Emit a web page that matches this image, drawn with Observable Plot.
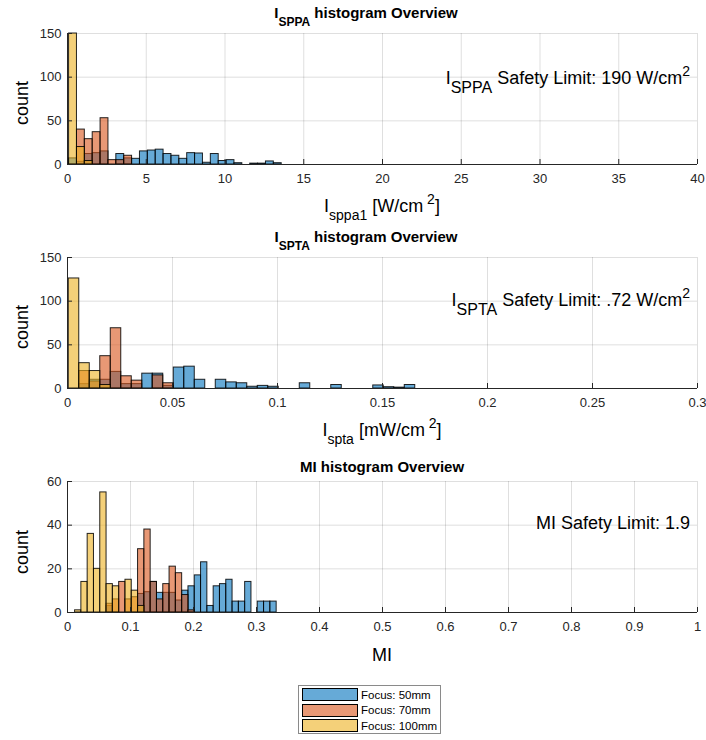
<!DOCTYPE html>
<html><head><meta charset="utf-8">
<script src="https://cdn.jsdelivr.net/npm/d3@7"></script>
<script src="https://cdn.jsdelivr.net/npm/@observablehq/plot@0.6"></script>
<style>
body{margin:0;background:#fff;font-family:"Liberation Sans",Arial,sans-serif;}
#fig{position:relative;width:706px;height:740px;overflow:hidden;background:#fff;}
#fig svg{position:absolute;left:0;}
.t{position:absolute;white-space:nowrap;line-height:1;color:#000;z-index:2;}
.sub{position:relative;}
.sup{position:relative;}
#legend{position:absolute;left:298px;top:685px;width:141px;height:47px;border:1px solid #8a8a8a;background:#fff;z-index:2;}
.lrow{position:absolute;left:3px;height:13px;display:flex;align-items:center;font-size:11.5px;color:#000;}
.sw{width:54px;height:11px;border:1px solid #000;margin-right:3px;}
</style></head><body><div id="fig"></div>
<script>
// ---- data ----
const seriesNames = ["Focus: 50mm", "Focus: 70mm", "Focus: 100mm"];
const seriesColors = ["#0072BD", "#D95319", "#EDB120"];

// I_SPPA histogram (W/cm^2), bin start / width, counts per bin
const sppaBinStart = 0.1, sppaBinWidth = 0.5;
const sppa50 = [7, 3, 12, 13, 15, 0, 12, 7, 6.5, 15, 16, 17, 12, 10, 6.5, 13, 12.6, 2, 12, 4, 5, 1.5, 0, 1, 1, 3.5, 1.5];
const sppa70 = [0, 40, 29, 37, 53, 5, 5, 10];
const sppa100 = [150, 20, 4];
const sppaXTicks = [0, 5, 10, 15, 20, 25, 30, 35, 40];
const sppaYTicks = [0, 50, 100, 150];

// I_SPTA histogram (mW/cm^2)
const sptaBinStart = 0.0006, sptaBinWidth = 0.005;
const spta50 = [0, 5, 10, 10, 19, 5, 5, 17, 17, 3, 24, 25, 10, 0, 10, 7, 6, 2, 3, 2, 0, 0, 6, 0, 0, 4, 0, 0, 0, 3.5, 1.5, 1, 4];
const spta70 = [0, 20, 8, 37, 69, 14, 9, 0, 15, 6];
const spta100 = [126, 29, 20, 4];
const sptaXTicks = [0, 0.05, 0.1, 0.15, 0.2, 0.25, 0.3];
const sptaXLabels = ["0", "0.05", "0.1", "0.15", "0.2", "0.25", "0.3"];
const sptaYTicks = [0, 50, 100, 150];

// MI histogram
const miBinStart = 0.012, miBinWidth = 0.01;
const mi50 = [0, 0, 0, 0, 0, 3, 0, 0, 0, 0, 8.5, 9.3, 14, 9, 9, 9, 5.5, 10, 12, 17, 23, 3, 12, 13, 15, 5, 5, 14, 0, 5, 5, 5];
const mi70 = [0, 0, 0, 0, 0, 4, 6, 14, 6, 7, 29, 38, 14, 6, 13, 21, 18, 8, 1];
const mi100 = [1, 14, 36, 20, 55, 13, 12, 0, 15, 10, 3];
const miXTicks = [0, 0.1, 0.2, 0.3, 0.4, 0.5, 0.6, 0.7, 0.8, 0.9, 1];
const miXLabels = ["0", "0.1", "0.2", "0.3", "0.4", "0.5", "0.6", "0.7", "0.8", "0.9", "1"];
const miYTicks = [0, 20, 40, 60];

// ---- drawing ----
const fig = document.getElementById("fig");
const FONT = "Liberation Sans, Arial, sans-serif";
const PLOT_H = 131, MT = 8, MB = 26;

function makePanel({plotTop, xDomain, xTicks, xLabels, yDomain, yTicks, start, width, series}) {
  const rows = [];
  series.forEach((counts, s) => counts.forEach((c, i) => {
    if (c > 0) rows.push({s, x1: start + i * width, x2: start + (i + 1) * width, y: c});
  }));
  const fmt = xLabels ? (d => xLabels[xTicks.indexOf(d)]) : (d => String(d));
  const innerW = 706 - 67 - 9;
  const svg = Plot.plot({
    width: 706, height: PLOT_H + MT + MB,
    marginLeft: 67, marginRight: 9, marginTop: MT, marginBottom: MB,
    x: {domain: xDomain}, y: {domain: yDomain},
    style: {fontFamily: FONT, fontSize: "13px", color: "#262626", background: "transparent", overflow: "visible"},
    marks: [
      Plot.gridX(xTicks, {stroke: "#262626", strokeOpacity: 0.15}),
      Plot.gridY(yTicks, {stroke: "#262626", strokeOpacity: 0.15}),
      ...[0, 1, 2].map(s => Plot.rectY(rows.filter(r => r.s === s), {
        x1: "x1", x2: "x2", y: "y", fill: seriesColors[s], fillOpacity: 0.6,
        stroke: "#000", strokeWidth: 1, strokeOpacity: 0.85
      })),
      Plot.ruleX([xDomain[0]], {stroke: "#262626"}),
      Plot.ruleY([yDomain[0]], {stroke: "#262626"}),
      Plot.tickX(xTicks, {x: d => d, stroke: "#262626", insetTop: PLOT_H - 5}),
      Plot.tickY(yTicks, {y: d => d, stroke: "#262626", insetRight: innerW - 5}),
      Plot.axisX(xTicks, {tickSize: 0, tickPadding: 9, tickFormat: fmt, label: null, fill: "#262626", fontSize: 13}),
      Plot.axisY(yTicks, {tickSize: 0, tickPadding: 6, tickFormat: d => String(d), label: null, fill: "#262626", fontSize: 13})
    ]
  });
  svg.style.top = (plotTop - MT) + "px";
  fig.appendChild(svg);
}

makePanel({plotTop: 33, xDomain: [0, 40], xTicks: sppaXTicks, yDomain: [0, 150], yTicks: sppaYTicks,
  start: sppaBinStart, width: sppaBinWidth, series: [sppa50, sppa70, sppa100]});
makePanel({plotTop: 257, xDomain: [0, 0.3], xTicks: sptaXTicks, xLabels: sptaXLabels, yDomain: [0, 150], yTicks: sptaYTicks,
  start: sptaBinStart, width: sptaBinWidth, series: [spta50, spta70, spta100]});
makePanel({plotTop: 481, xDomain: [0, 1], xTicks: miXTicks, xLabels: miXLabels, yDomain: [0, 60], yTicks: miYTicks,
  start: miBinStart, width: miBinWidth, series: [mi50, mi70, mi100]});

// ---- text ----
function text(html, {x, baseline, size = 15, bold = false, align = "left"}) {
  const d = document.createElement("div");
  d.className = "t";
  d.innerHTML = html;
  d.style.fontSize = size + "px";
  if (bold) d.style.fontWeight = "bold";
  d.style.top = (baseline - 0.85 * size) + "px";
  if (align === "center") { d.style.left = x + "px"; d.style.transform = "translateX(-50%)"; }
  else if (align === "right") { d.style.right = (706 - x) + "px"; }
  else d.style.left = x + "px";
  fig.appendChild(d);
  return d;
}
const sub = (s, sz, dy) => `<span class="sub" style="font-size:${sz}px;top:${dy}px">${s}</span>`;
const sup = (s, sz, dy) => `<span class="sup" style="font-size:${sz}px;top:${-dy}px">${s}</span>`;

// titles
text(`I${sub("SPPA", 12, 8)} histogram Overview`, {x: 366, baseline: 18, size: 15, bold: true, align: "center"});
text(`I${sub("SPTA", 12, 8)} histogram Overview`, {x: 366, baseline: 242, size: 15, bold: true, align: "center"});
text(`MI histogram Overview`, {x: 382, baseline: 472, size: 15, bold: true, align: "center"});

// x labels
text(`I${sub("sppa1", 14, 8)} [W/cm${sup(" 2", 14, 8)}]`, {x: 382, baseline: 212, size: 18, align: "center"});
text(`I${sub("spta", 14, 8)} [mW/cm${sup(" 2", 14, 8)}]`, {x: 382, baseline: 436, size: 18, align: "center"});
text(`MI`, {x: 382, baseline: 661, size: 18, align: "center"});

// y labels
function ylabel(cy) {
  const d = document.createElement("div");
  d.className = "t";
  d.textContent = "count";
  d.style.fontSize = "18px";
  d.style.left = "22px";
  d.style.top = cy + "px";
  d.style.transform = "translate(-50%,-50%) rotate(-90deg)";
  fig.appendChild(d);
}
ylabel(103); ylabel(327); ylabel(552);

// safety limit annotations
text(`I${sub("SPPA", 16, 9)} Safety Limit: 190 W/cm${sup("2", 14, 8)}`, {x: 690, baseline: 84, size: 18, align: "right"});
text(`I${sub("SPTA", 16, 9)} Safety Limit: .72 W/cm${sup("2", 14, 8)}`, {x: 690, baseline: 306, size: 18, align: "right"});
text(`MI Safety Limit: 1.9`, {x: 690, baseline: 529, size: 18, align: "right"});

// legend
const leg = document.createElement("div");
leg.id = "legend";
seriesNames.forEach((name, i) => {
  const r = document.createElement("div");
  r.className = "lrow";
  r.style.top = (2 + i * 15.5) + "px";
  const sw = document.createElement("div");
  sw.className = "sw";
  sw.style.background = d3.interpolateRgb("#ffffff", seriesColors[i])(0.6);
  r.appendChild(sw);
  const t = document.createElement("span");
  t.textContent = name;
  r.appendChild(t);
  leg.appendChild(r);
});
fig.appendChild(leg);
</script></body></html>
